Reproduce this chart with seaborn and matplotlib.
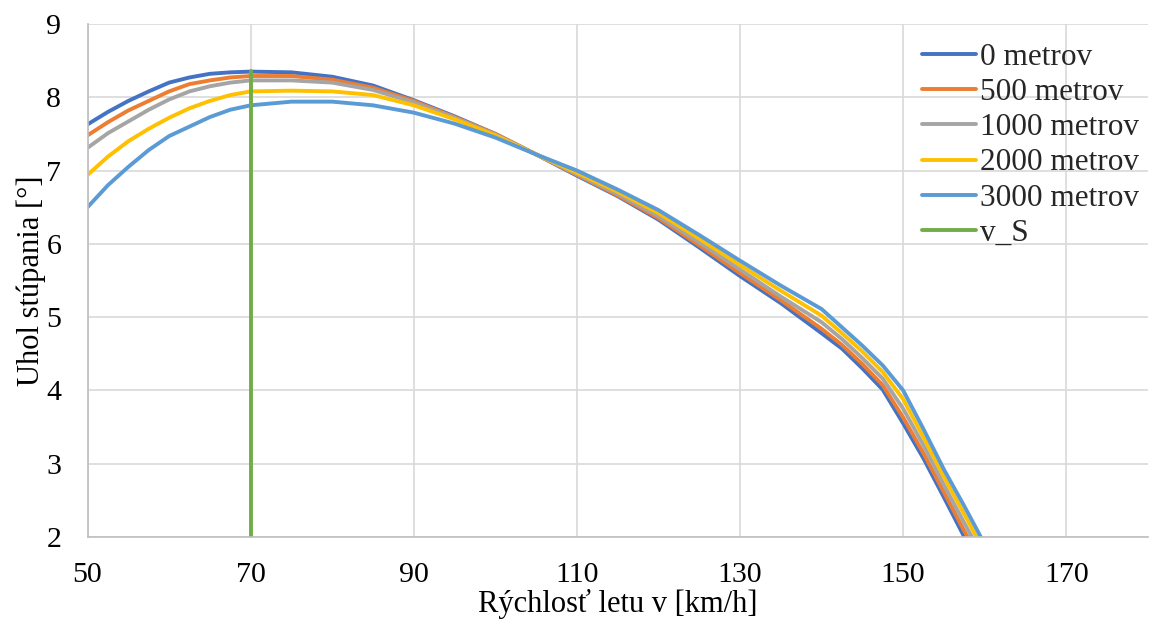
import matplotlib
matplotlib.use("Agg")
import matplotlib.pyplot as plt
import pandas as pd
import numpy as np
import seaborn as sns

# flight speed [km/h]
speed = [50, 52.5, 55, 57.5, 60, 62.5, 65, 67.5, 70, 75, 80, 85, 90, 95, 100,
         105, 110, 115, 120, 125, 130, 135, 140, 142.5, 145, 147.5, 150,
         152.5, 155, 157.5, 160]

# climb angle [deg] per altitude
h0 = [7.63, 7.80, 7.95, 8.08, 8.20, 8.27, 8.32, 8.34, 8.35, 8.34, 8.28, 8.16,
      7.96, 7.74, 7.50, 7.22, 6.93, 6.65, 6.33, 5.95, 5.56, 5.19, 4.78, 4.57,
      4.30, 4.01, 3.55, 3.07, 2.54, 2.00, 1.50]
h500 = [7.48, 7.66, 7.82, 7.95, 8.08, 8.18, 8.23, 8.27, 8.29, 8.29, 8.24, 8.13,
        7.95, 7.73, 7.50, 7.22, 6.94, 6.66, 6.35, 5.98, 5.60, 5.23, 4.84, 4.62,
        4.36, 4.07, 3.63, 3.14, 2.61, 2.08, 1.57]
h1000 = [7.31, 7.51, 7.67, 7.83, 7.97, 8.08, 8.15, 8.20, 8.23, 8.23, 8.20, 8.10,
         7.93, 7.72, 7.49, 7.22, 6.95, 6.68, 6.38, 6.02, 5.65, 5.28, 4.93, 4.70,
         4.44, 4.16, 3.75, 3.25, 2.71, 2.19, 1.68]
h2000 = [6.94, 7.19, 7.40, 7.57, 7.72, 7.85, 7.95, 8.03, 8.08, 8.09, 8.08, 8.03,
         7.89, 7.70, 7.48, 7.22, 6.97, 6.71, 6.42, 6.07, 5.71, 5.36, 5.02, 4.78,
         4.53, 4.25, 3.88, 3.36, 2.82, 2.31, 1.79]
h3000 = [6.50, 6.80, 7.05, 7.28, 7.47, 7.60, 7.73, 7.83, 7.89, 7.94, 7.94, 7.89,
         7.79, 7.64, 7.45, 7.22, 7.00, 6.74, 6.46, 6.12, 5.77, 5.43, 5.11, 4.86,
         4.61, 4.34, 4.00, 3.47, 2.92, 2.42, 1.90]

# stall speed marker
vs_x = [70, 70]
vs_y = [0, 8.36]

labels = ["0 metrov", "500 metrov", "1000 metrov", "2000 metrov", "3000 metrov", "v_S"]
colors = ["#4472C4", "#ED7D31", "#A5A5A5", "#FFC000", "#5B9BD5", "#70AD47"]

frames = []
for lab, vals in zip(labels[:5], [h0, h500, h1000, h2000, h3000]):
    frames.append(pd.DataFrame({"v": speed, "uhol": vals, "serie": lab}))
frames.append(pd.DataFrame({"v": vs_x, "uhol": vs_y, "serie": labels[5]}))
df = pd.concat(frames, ignore_index=True)

sns.set_theme(style="whitegrid")
plt.rcParams["font.family"] = ["Liberation Serif", "DejaVu Serif"]

fig = plt.figure(figsize=(11.49, 6.21), dpi=100)
ax = fig.add_axes([0.0762, 0.1353, 0.9228, 0.8261])

sns.lineplot(data=df, x="v", y="uhol", hue="serie", hue_order=labels,
             palette=colors, estimator=None, sort=False, linewidth=2.8, ax=ax)

ax.set_xlim(50, 180)
ax.set_ylim(2, 9)
ax.set_xticks(np.arange(50, 171, 20))
ax.set_yticks(np.arange(2, 10, 1))
ax.tick_params(axis="x", length=0, labelsize=21.5, pad=18, colors="black")
ax.tick_params(axis="y", length=0, labelsize=21.5, pad=19, colors="black")
ax.grid(True, color="#D9D9D9", linewidth=1.2)
ax.set_facecolor("white")
for side in ["top", "right"]:
    ax.spines[side].set_visible(False)
for side in ["left", "bottom"]:
    ax.spines[side].set_color("#BFBFBF")
    ax.spines[side].set_linewidth(1.2)

ax.set_xlabel("Rýchlosť letu v [km/h]", fontsize=22, labelpad=0.5, color="black")
ax.set_ylabel("Uhol stúpania [°]", fontsize=22, labelpad=0, color="black")

leg = ax.legend(loc="upper right", bbox_to_anchor=(1.009, 1.0), frameon=False,
                fontsize=22.5, handlelength=1.7, handletextpad=0.13,
                labelspacing=0.2, borderaxespad=0.2)
for line in leg.get_lines():
    line.set_linewidth(2.8)

fig.savefig("out.png", dpi=100)
